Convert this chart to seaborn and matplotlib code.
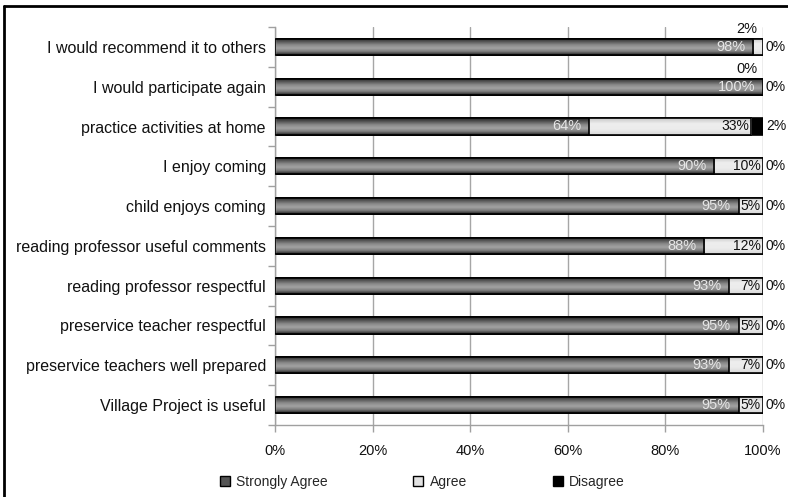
import numpy as np
import pandas as pd
import matplotlib
matplotlib.use("Agg")
import matplotlib.pyplot as plt
import seaborn as sns
from matplotlib.colors import LinearSegmentedColormap
from matplotlib.patches import Patch
from matplotlib.lines import Line2D

# survey items, top to bottom
items = [
    "I would recommend it to others",
    "I would participate again",
    "practice activities at home",
    "I enjoy coming",
    "child enjoys coming",
    "reading professor useful comments",
    "reading professor respectful",
    "preservice teacher respectful",
    "preservice teachers well prepared",
    "Village Project is useful",
]
strongly_agree = [98, 100, 64.3, 90, 95, 88, 93, 95, 93, 95]
agree = [2, 0, 33.3, 10, 5, 12, 7, 5, 7, 5]
disagree = [0, 0, 2.4, 0, 0, 0, 0, 0, 0, 0]
xticks = [0, 20, 40, 60, 80, 100]

df = pd.DataFrame({"item": items, "sa": strongly_agree, "a": agree, "d": disagree})
df["sa_a"] = df["sa"] + df["a"]
df["total"] = df["sa_a"] + df["d"]

sns.set_theme(style="white")
plt.rcParams["font.family"] = ["Liberation Sans", "DejaVu Sans"]

fig = plt.figure(figsize=(7.88, 4.97), dpi=100)
ax = fig.add_axes([275 / 788, 1 - 425 / 497, 488 / 788, 398 / 497])

bw = 0.41
# stacked bars drawn as overlapping cumulative totals
sns.barplot(data=df, x="total", y="item", color="black", width=bw, orient="h",
            edgecolor="black", linewidth=1.2, saturation=1, ax=ax)
sns.barplot(data=df, x="sa_a", y="item", color="#e2e2e2", width=bw, orient="h",
            edgecolor="black", linewidth=1.2, saturation=1, ax=ax)
sns.barplot(data=df, x="sa", y="item", color="#666666", width=bw, orient="h",
            edgecolor="black", linewidth=1.2, saturation=1, ax=ax)

# cylinder-like shading
dark_cmap = LinearSegmentedColormap.from_list("dk", ["#262626", "#555555", "#8a8a8a", "#a2a2a2", "#7a7a7a", "#222222"])
light_cmap = LinearSegmentedColormap.from_list("lt", ["#c8c8c8", "#eeeeee", "#ececec", "#d6d6d6"])
grad = np.linspace(0, 1, 64).reshape(-1, 1)
n = len(items)
for k, (cmap, z) in enumerate([(light_cmap, 1.5), (dark_cmap, 2.5)]):
    for p in ax.patches[(k + 1) * n:(k + 2) * n]:
        if p.get_width() <= 0:
            continue
        x0, y0, w, h = p.get_x(), p.get_y(), p.get_width(), p.get_height()
        im = ax.imshow(grad, cmap=cmap, aspect="auto", extent=[x0, x0 + w, y0 + h, y0],
                       origin="upper", zorder=z, interpolation="bilinear")
        im.set_clip_path(p)
        p.set_facecolor("none")
        p.set_zorder(z + 0.05)

ax.set_xlim(0, 100)
ax.set_ylim(n - 0.5, -0.5)

# value labels
for i in range(n):
    sa, a, d = strongly_agree[i], agree[i], disagree[i]
    ax.text(sa - 1.6, i, f"{round(sa)}%", ha="right", va="center", color="#e6e6e6",
            fontsize=10.5, zorder=6)
    if a >= 4:
        ax.text(sa + a - 0.5, i, f"{round(a)}%", ha="right", va="center", color="#111111",
                fontsize=10, zorder=6)
    else:
        ax.text(98.8, i - 0.44, f"{round(a)}%", ha="right", va="center", color="#111111",
                fontsize=10.5, zorder=6)
    ax.text(100.6, i, f"{round(d)}%", ha="left", va="center", color="#111111",
            fontsize=10, zorder=6, clip_on=False)

ax.set_xticks(xticks)
ax.set_xticklabels([f"{v}%" for v in xticks], fontsize=10.5, color="#111111")
ax.set_yticks(range(n))
ax.set_yticklabels(items, fontsize=11.5, color="#111111")
ax.set_yticks(np.arange(-0.5, n, 1), minor=True)
ax.tick_params(axis="y", which="major", length=0, pad=6.5)
ax.tick_params(axis="y", which="minor", length=5, width=1, color="#a0a0a0", left=True)
ax.tick_params(axis="x", length=5, width=1, color="#a0a0a0", bottom=True, pad=9)
ax.set_xlabel("")
ax.set_ylabel("")

ax.set_axisbelow(True)
ax.xaxis.grid(True, color="#a6a6a6", linewidth=1)
for s in ["top", "right"]:
    ax.spines[s].set_visible(False)
for s in ["left", "bottom"]:
    ax.spines[s].set_color("#a0a0a0")
    ax.spines[s].set_linewidth(1)

handles = [
    Patch(facecolor="#555555", edgecolor="black", linewidth=1),
    Patch(facecolor="#e2e2e2", edgecolor="black", linewidth=1),
    Patch(facecolor="black", edgecolor="black", linewidth=1),
]
fig.legend(handles, ["Strongly Agree", "Agree", "Disagree"], loc="center left",
           bbox_to_anchor=(207 / 788, 1 - 482 / 497), ncol=3, frameon=False,
           handlelength=0.72, handleheight=0.72, handletextpad=0.45, columnspacing=6.2,
           fontsize=10)

# outer frame (top and left edges visible)
fig.add_artist(Line2D([4 / 788, 1], [1 - 6 / 497, 1 - 6 / 497], color="black", linewidth=2,
                      transform=fig.transFigure))
fig.add_artist(Line2D([4 / 788, 4 / 788], [0, 1 - 6 / 497], color="black", linewidth=2,
                      transform=fig.transFigure))

fig.savefig("out.png", dpi=100)
